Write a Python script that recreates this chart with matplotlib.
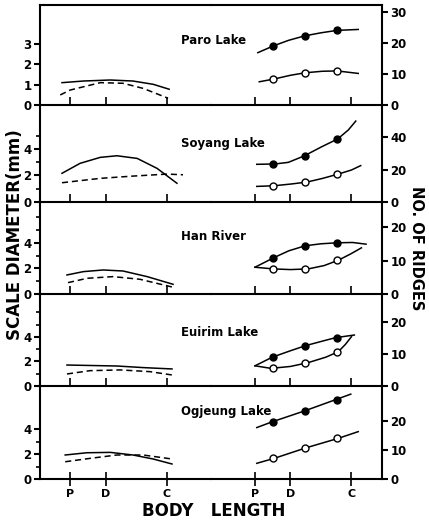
"""Scale diameter and number of ridges against body length, five waters.

Left half of each row: scale diameter (solid / dashed curves).
Right half: number of ridges (filled / open circles with fitted lines).
Output: out.png
"""
import matplotlib
matplotlib.use("Agg")
import matplotlib.pyplot as plt

plt.rcParams["font.family"] = ["DejaVu Sans"]
plt.rcParams["font.weight"] = "bold"

# --- data ----------------------------------------------------------------
lakes = ["Paro Lake", "Soyang Lake", "Han River", "Euirim Lake", "Ogjeung Lake"]
stage_pos = [0, 1, 2.72]
stage_labels = ["P", "D", "C"]
ridge_len = [0.5, 1.4, 2.32]

# scale diameter (mm): solid and dashed curves
paro_solid_len = [-0.23, 0.37, 1.13, 1.77, 2.34, 2.79]
paro_solid = [1.09, 1.17, 1.22, 1.17, 1.01, 0.77]
paro_dash_len = [-0.28, 0.0, 0.85, 1.49, 2.06, 2.76]
paro_dash = [0.49, 0.73, 1.09, 1.06, 0.81, 0.33]

soyang_solid_len = [-0.23, 0.28, 0.85, 1.32, 1.89, 2.45, 3.01]
soyang_solid = [2.16, 2.91, 3.36, 3.48, 3.28, 2.53, 1.41]
soyang_dash_len = [-0.23, 0.85, 1.77, 2.73, 3.18]
soyang_dash = [1.45, 1.78, 1.95, 2.1, 2.05]

han_solid_len = [-0.09, 0.37, 0.93, 1.49, 2.17, 2.90]
han_solid = [1.49, 1.75, 1.88, 1.80, 1.36, 0.76]
han_dash_len = [-0.06, 0.48, 1.21, 1.97, 2.90]
han_dash = [0.89, 1.23, 1.36, 1.15, 0.53]

euirim_solid_len = [-0.09, 1.32, 2.06, 2.87]
euirim_solid = [1.71, 1.63, 1.5, 1.39]
euirim_dash_len = [-0.09, 0.56, 1.41, 2.25, 2.87]
euirim_dash = [0.98, 1.25, 1.31, 1.17, 0.9]

ogjeung_solid_len = [-0.14, 0.47, 1.13, 1.77, 2.34, 2.87]
ogjeung_solid = [1.92, 2.1, 2.13, 1.92, 1.6, 1.2]
ogjeung_dash_len = [-0.14, 0.56, 1.32, 2.06, 2.87]
ogjeung_dash = [1.38, 1.65, 1.92, 1.92, 1.6]

# number of ridges: filled / open points and their curves
paro_fill = [19.1, 22.3, 24.1]
paro_fill_len = [0.08, 0.52, 0.95, 1.39, 1.85, 2.31, 2.91]
paro_fill_curve = [16.9, 19.1, 20.9, 22.3, 23.3, 24.1, 24.4]
paro_open = [8.4, 10.4, 11.0]
paro_open_len = [0.12, 0.54, 1.0, 1.41, 1.9, 2.32, 2.91]
paro_open_curve = [7.5, 8.4, 9.6, 10.4, 10.9, 11.0, 10.2]

soyang_fill = [23.4, 28.3, 38.8]
soyang_fill_len = [0.05, 0.56, 0.94, 1.38, 1.88, 2.33, 2.63, 2.84]
soyang_fill_curve = [23.2, 23.4, 24.4, 28.3, 34.0, 38.8, 44.3, 49.8]
soyang_open = [10.0, 12.3, 17.2]
soyang_open_len = [0.05, 0.54, 1.03, 1.47, 1.9, 2.35, 2.72, 2.98]
soyang_open_curve = [9.6, 10.0, 11.1, 12.3, 14.5, 17.2, 19.7, 22.4]

han_fill = [10.9, 14.4, 15.3]
han_fill_len = [0.0, 0.54, 0.95, 1.41, 1.85, 2.30, 2.75, 3.13]
han_fill_curve = [8.0, 10.9, 12.9, 14.4, 15.0, 15.3, 15.4, 14.9]
han_open = [7.5, 7.5, 10.1]
han_open_len = [0.0, 0.52, 1.0, 1.5, 1.95, 2.35, 2.7, 3.0]
han_open_curve = [8.0, 7.5, 7.3, 7.5, 8.5, 10.1, 12.0, 13.8]

euirim_fill = [9.0, 12.6, 15.1]
euirim_fill_len = [0.0, 0.49, 1.0, 1.43, 1.9, 2.28, 2.80]
euirim_fill_curve = [6.3, 9.0, 11.0, 12.6, 14.0, 15.1, 15.9]
euirim_open = [5.5, 7.3, 10.7]
euirim_open_len = [0.0, 0.45, 1.0, 1.5, 2.0, 2.35, 2.55, 2.72]
euirim_open_curve = [6.3, 5.5, 6.1, 7.3, 9.0, 10.7, 13.0, 15.4]

ogjeung_fill = [19.7, 23.4, 27.2]
ogjeung_fill_len = [0.05, 0.49, 1.39, 2.25, 2.70]
ogjeung_fill_curve = [17.7, 19.7, 23.4, 27.2, 29.2]
ogjeung_open = [7.1, 10.7, 14.0]
ogjeung_open_len = [0.05, 0.54, 1.43, 2.35, 2.91]
ogjeung_open_curve = [5.4, 7.1, 10.7, 14.0, 16.3]

# axis ranges / ticks per row
diam_ylim = [4.88, 7.3, 7.2, 7.5, 7.44]
diam_ticks = [[0, 1, 2, 3], [0, 2, 4], [0, 2, 4], [0, 2, 4], [0, 2, 4]]
diam_minor = [[], [1, 3, 5], [1, 3, 5, 6], [1, 3, 5, 6], [1, 3]]
ridge_ylim = [32.3, 59.7, 27.5, 28.7, 32.0]
ridge_ticks = [[0, 10, 20, 30], [0, 20, 40], [0, 10, 20], [0, 10, 20], [0, 10, 20]]

rows = [
    (paro_solid_len, paro_solid, paro_dash_len, paro_dash,
     paro_fill, paro_fill_len, paro_fill_curve,
     paro_open, paro_open_len, paro_open_curve),
    (soyang_solid_len, soyang_solid, soyang_dash_len, soyang_dash,
     soyang_fill, soyang_fill_len, soyang_fill_curve,
     soyang_open, soyang_open_len, soyang_open_curve),
    (han_solid_len, han_solid, han_dash_len, han_dash,
     han_fill, han_fill_len, han_fill_curve,
     han_open, han_open_len, han_open_curve),
    (euirim_solid_len, euirim_solid, euirim_dash_len, euirim_dash,
     euirim_fill, euirim_fill_len, euirim_fill_curve,
     euirim_open, euirim_open_len, euirim_open_curve),
    (ogjeung_solid_len, ogjeung_solid, ogjeung_dash_len, ogjeung_dash,
     ogjeung_fill, ogjeung_fill_len, ogjeung_fill_curve,
     ogjeung_open, ogjeung_open_len, ogjeung_open_curve),
]

# --- layout (pixels of the 429x523 canvas) --------------------------------
W, H = 429, 523
row_px = [(5, 105), (105, 202), (202, 294), (294, 386), (386, 479)]
name_y_px = [40, 143, 237, 333, 411]
lw_spine = 1.5
lw_line = 1.1

fig = plt.figure(figsize=(W / 100, H / 100), dpi=100)

for i, (top, bot) in enumerate(row_px):
    (s_x, s_y, d_x, d_y, f_pts, f_x, f_y, o_pts, o_x, o_y) = rows[i]
    last = i == len(row_px) - 1
    axL = fig.add_axes([40 / W, 1 - bot / H, 171 / W, (bot - top) / H])
    axR = fig.add_axes([211 / W, 1 - bot / H, 171 / W, (bot - top) / H])

    # scale diameter
    axL.plot(s_x, s_y, color="black", lw=lw_line)
    axL.plot(d_x, d_y, color="black", lw=lw_line, ls=(0, (4, 2.5)))
    axL.set_xlim(-0.85, 3.97)
    axL.set_ylim(0, diam_ylim[i])
    axL.set_yticks(diam_ticks[i])
    axL.set_yticks(diam_minor[i], minor=True)

    # number of ridges
    axR.plot(f_x, f_y, color="black", lw=lw_line)
    axR.plot(o_x, o_y, color="black", lw=lw_line)
    axR.plot(ridge_len, f_pts, "o", ms=5, mfc="black", mec="black", mew=1)
    axR.plot(ridge_len, o_pts, "o", ms=5, mfc="white", mec="black", mew=1)
    axR.set_xlim(-1.24, 3.58)
    axR.set_ylim(0, ridge_ylim[i])
    axR.set_yticks(ridge_ticks[i])
    axR.yaxis.tick_right()

    for ax, hide in ((axL, "right"), (axR, "left")):
        ax.spines[hide].set_visible(False)
        if i > 0:
            ax.spines["top"].set_visible(False)
        for sp in ax.spines.values():
            sp.set_linewidth(lw_spine)
        ax.patch.set_alpha(0)
        ax.set_xticks(stage_pos)
        if last:
            ax.set_xticklabels(stage_labels)
            ax.tick_params(axis="x", direction="inout", length=10, width=1.2,
                           labelsize=8, pad=2)
        else:
            ax.set_xticklabels([])
            ax.tick_params(axis="x", direction="in", length=6, width=1.2)
        ax.tick_params(axis="y", which="major", direction="out", length=4,
                       width=1.5, labelsize=8.5, pad=2)
        ax.tick_params(axis="y", which="minor", direction="out", length=3,
                       width=1.2)

    fig.text(181 / W, 1 - name_y_px[i] / H, lakes[i], ha="left", va="center",
             fontsize=8.5, fontweight="bold")

fig.text(15 / W, 1 - 235 / H, "SCALE DIAMETER(mm)", rotation=90,
         ha="center", va="center", fontsize=12, fontweight="bold")
fig.text(416 / W, 1 - 248 / H, "NO. OF RIDGES", rotation=-90,
         ha="center", va="center", fontsize=10.5, fontweight="bold")
fig.text(214 / W, 1 - 511 / H, "BODY   LENGTH", ha="center", va="center",
         fontsize=12, fontweight="bold")

fig.savefig("out.png", dpi=100)
plt.close(fig)
